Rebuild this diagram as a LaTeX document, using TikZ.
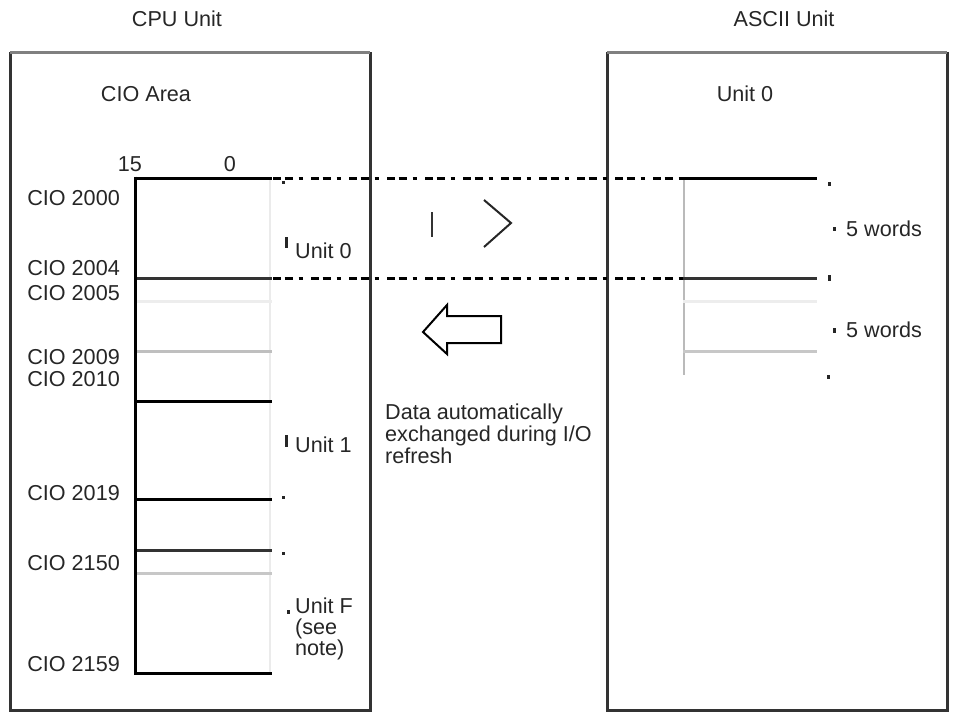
\documentclass[tikz,border=0pt]{standalone}
\usepackage{fontspec}
\setmainfont{Liberation Sans}
\usetikzlibrary{positioning}

\begin{document}
\begin{tikzpicture}[
    x=1pt, y=-1pt,
    txt/.style={inner sep=0pt, font=\fontsize{21.6}{21.7}\selectfont, text=black!85},
    addr/.style={txt, anchor=east},
    unitlbl/.style={txt, anchor=west},
    word/.style={line width=3pt},
    faint/.style={line width=2pt},
    linkline/.style={line width=3pt, dash pattern=on 8pt off 3.5pt on 8pt off 6pt on 4pt off 8.5pt},
    bracebit/.style={fill=black!85, inner sep=0pt, minimum width=3pt, minimum height=#1, draw=none},
    blockarrow/.style={draw=black, line width=2pt, line join=miter},
]
\useasboundingbox (0,0) rectangle (957,712);

% Titles
\node[txt] (cpuTitle) at (177,18.5) {CPU Unit};
\node[txt] (asciiTitle) at (784,18.5) {ASCII Unit};

% Unit frames
\draw[line width=3pt, black!80] (10,52) -- (10,710) -- (370,710) -- (370,52);
\draw[line width=3pt, black!50] (10,52) -- (370,52);
\draw[line width=3pt, black!80] (607,52) -- (607,710) -- (947,710) -- (947,52);
\draw[line width=3pt, black!50] (607,52) -- (947,52);
\node[txt] (cioArea) at (146,94) {CIO Area};
\node[txt] (unitZero) at (745,94) {Unit 0};

% Bit numbers
\node[txt] (bit15) at (130,164) {15};
\node[txt] (bit0) at (230,164) {0};

% CIO words
\draw[faint, black!8] (270,178) -- (270,675);
\foreach \yy/\cc in {178/black, 278/black!80, 301/black!7, 351/black!25, 401/black, 499/black, 550/black!80, 573/black!22, 673/black}
    \draw[word, \cc] (135,\yy) -- (272,\yy);
\draw[word, black] (135,176.5) -- (135,674.5);

\node[addr] (c2000) at (120,198) {CIO 2000};
\node[addr] (c2004) at (120,268) {CIO 2004};
\node[addr] (c2005) at (120,293) {CIO 2005};
\node[addr] (c2009) at (120,357) {CIO 2009};
\node[addr] (c2010) at (120,379) {CIO 2010};
\node[addr] (c2019) at (120,493) {CIO 2019};
\node[addr] (c2150) at (120,563) {CIO 2150};
\node[addr] (c2159) at (120,664) {CIO 2159};

% Unit ranges
\node[unitlbl] (u0) at (295,251) {Unit 0};
\node[unitlbl] (u1) at (295,445) {Unit 1};
\node[unitlbl, align=left, font=\fontsize{21.6}{21}\selectfont] (uF) at (295,629) {Unit F\\(see\\note)};
\node[bracebit=11pt] (b0) at (286,242) {};
\node[bracebit=12pt] (b1) at (286,441) {};
\node[bracebit=4pt] (bF) at (288,612) {};
\node[bracebit=3pt] (b0top) at (283,182) {};
\node[bracebit=3pt] (b1bot) at (283,497) {};
\node[bracebit=3pt] (bFtop) at (283,553) {};

% ASCII Unit words
\draw[faint, black!27] (684,178) -- (684,375);
\foreach \yy/\cc in {178/black, 278/black!80, 301/black!7, 351/black!22}
    \draw[word, \cc] (683,\yy) -- (817,\yy);
\node[unitlbl] (w1) at (846,229) {5 words};
\node[unitlbl] (w2) at (846,330) {5 words};
\node[bracebit=4pt] (bw1) at (834,229) {};
\node[bracebit=5pt] (bw2) at (834,330) {};
\node[bracebit=4pt] (bwtop) at (829,184) {};
\node[bracebit=6pt] (bwmid) at (829,278) {};
\node[bracebit=4pt] (bwbot) at (828,377) {};

% Links
\coordinate (cpuTop) at (273,178);
\coordinate (cpuMid) at (273,278);
\coordinate (ascTop) at (683,178);
\coordinate (ascMid) at (683,278);
\draw[linkline] (cpuTop) -- (ascTop);
\draw[linkline] (cpuMid) -- (ascMid);

% Transfer arrows
\draw[black!80, line width=2pt] (432,212) -- (432,237);
\draw[black!85, line width=2pt] (484,200) -- (511,223) -- (484,247);
\draw[blockarrow] (423,332) -- (447,305) -- (447,316) -- (501,316) -- (501,343) -- (447,343) -- (447,354) -- cycle;

\node[txt, anchor=north west, align=left] (note) at (385,404) {Data automatically\\exchanged during I/O\\refresh};
\end{tikzpicture}
\end{document}
